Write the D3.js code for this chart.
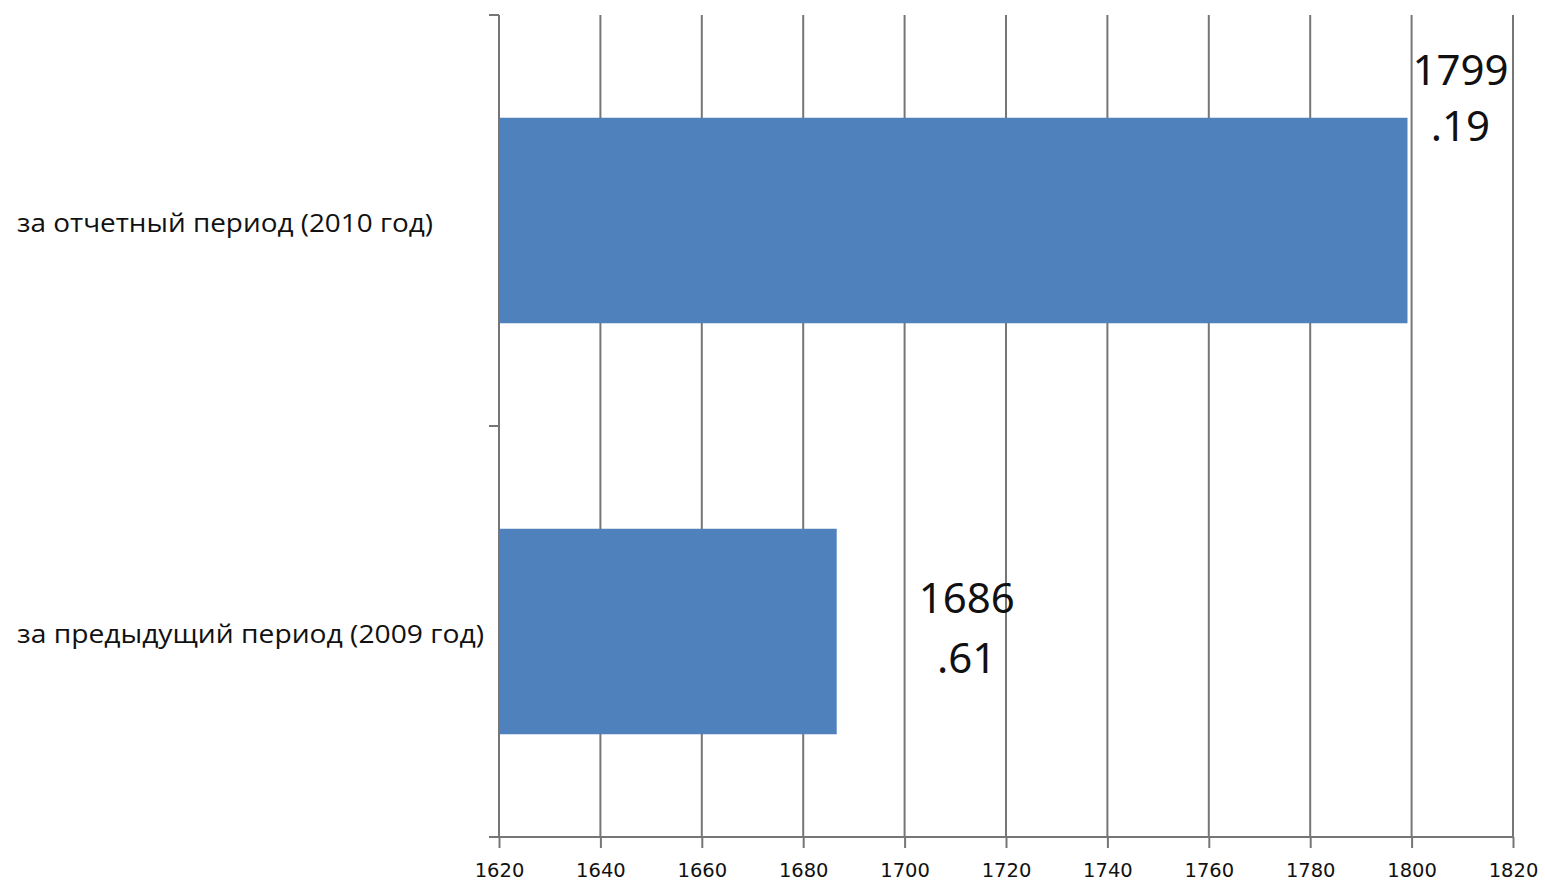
<!DOCTYPE html>
<html>
<head>
<meta charset="utf-8">
<script src="https://cdn.jsdelivr.net/npm/d3@7"></script>
<style>
  html, body { margin: 0; padding: 0; background: #fff; }
  svg { display: block; }
</style>
</head>
<body>
<script>
// Categories from top to bottom, with their values
const categories = ["за отчетный период (2010 год)", "за предыдущий период (2009 год)"];
const values = [1799.19, 1686.61];
// Value labels are split over two lines
const labelLines = [["1799", ".19"], ["1686", ".61"]];
const xTicks = [1620, 1640, 1660, 1680, 1700, 1720, 1740, 1760, 1780, 1800, 1820];

const W = 1545, H = 882;
const plot = { left: 499, right: 1513, top: 15, bottom: 837 };

const svg = d3.select("body").append("svg")
  .attr("width", W).attr("height", H);

const x = d3.scaleLinear().domain([1620, 1820]).range([plot.left, plot.right]);
const y = d3.scaleBand().domain(categories)
  .range([plot.top, plot.bottom])
  .paddingInner(0.5).paddingOuter(0.25);

const gridColor = "#767676";

// vertical gridlines
svg.append("g").selectAll("line").data(xTicks).join("line")
  .attr("x1", d => x(d)).attr("x2", d => x(d))
  .attr("y1", plot.top).attr("y2", plot.bottom)
  .attr("stroke", gridColor).attr("stroke-width", 2);

// bars
svg.append("g").selectAll("rect").data(categories).join("rect")
  .attr("x", x(1620))
  .attr("y", d => y(d))
  .attr("width", (d, i) => x(values[i]) - x(1620))
  .attr("height", y.bandwidth())
  .attr("fill", "#4f81bd");

// x axis
const xAxis = d3.axisBottom(x).tickValues(xTicks).tickSize(11).tickSizeOuter(0)
  .tickFormat(d3.format("d"));
const gx = svg.append("g").attr("transform", `translate(0,${plot.bottom})`).call(xAxis);
gx.select(".domain").remove();
gx.selectAll(".tick line").attr("stroke", gridColor).attr("stroke-width", 2);
gx.selectAll(".tick text")
  .attr("y", 40).attr("dy", 0)
  .attr("font-family", "DejaVu Sans, Verdana, sans-serif")
  .attr("font-size", 19.5).attr("fill", "#111");
svg.append("line")
  .attr("x1", plot.left - 10).attr("x2", plot.right)
  .attr("y1", plot.bottom).attr("y2", plot.bottom)
  .attr("stroke", gridColor).attr("stroke-width", 2);

// y axis with ticks at category boundaries
const bounds = [plot.top, (y(categories[0]) + y.bandwidth() + y(categories[1])) / 2, plot.bottom];
svg.append("line")
  .attr("x1", plot.left).attr("x2", plot.left)
  .attr("y1", plot.top).attr("y2", plot.bottom)
  .attr("stroke", gridColor).attr("stroke-width", 2);
svg.append("g").selectAll("line").data(bounds).join("line")
  .attr("x1", plot.left - 10).attr("x2", plot.left)
  .attr("y1", d => d).attr("y2", d => d)
  .attr("stroke", gridColor).attr("stroke-width", 2);

// category labels
const catWidths = [416, 467];
svg.append("g").selectAll("text").data(categories).join("text")
  .attr("x", 17)
  .attr("y", d => y(d) + y.bandwidth() / 2 + 11)
  .attr("font-family", "Open Sans, Noto Sans, sans-serif")
  .attr("font-size", 25)
  .attr("textLength", (d, i) => catWidths[i])
  .attr("lengthAdjust", "spacingAndGlyphs")
  .attr("fill", "#111")
  .text(d => d);

// value labels: horizontal and vertical offsets from the bar end / bar centre
const labelDx = [53, 130];
const labelDy = [-136, -19];
const lineGap = [56, 60];
const vl = svg.append("g").selectAll("g").data(categories).join("g")
  .attr("transform", (d, i) =>
    `translate(${x(values[i]) + labelDx[i]},${y(d) + y.bandwidth() / 2 + labelDy[i]})`);
vl.each(function(d, i) {
  d3.select(this).selectAll("text").data(labelLines[i]).join("text")
    .attr("x", 0)
    .attr("y", (t, j) => j * lineGap[i])
    .attr("text-anchor", "middle")
    .attr("font-family", "Noto Sans, Open Sans, sans-serif")
    .attr("font-size", 42)
    .attr("fill", "#111")
    .text(t => t);
});
</script>
</body>
</html>
